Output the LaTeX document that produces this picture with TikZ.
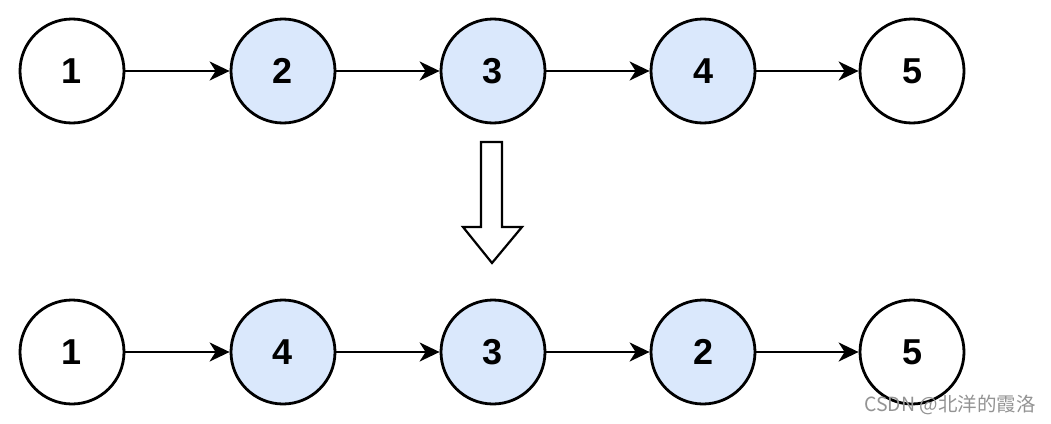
\documentclass[tikz,border=0pt]{standalone}
\usepackage{fontspec}
\setmainfont{Liberation Sans}
\newfontfamily\cjkfont{Noto Sans CJK SC}
\usepackage{xcolor}
\usetikzlibrary{arrows.meta}
\usetikzlibrary{positioning}

\definecolor{nodeblue}{HTML}{DAE8FC}

\begin{document}
\begin{tikzpicture}[
            x=1pt, y=-1pt,
            listnode/.style={circle, draw=black, line width=2.8pt, minimum size=104pt,
            inner sep=0pt, fill=white, font=\fontsize{36}{36}\selectfont\bfseries},
            swapped/.style={listnode, fill=nodeblue},
            link/.style={-{Stealth[length=20pt, width=19pt, inset=6pt]}, line width=2.2pt},
            bigarrow/.style={draw=black, line width=2.2pt, fill=white, line join=miter}
        ]
            % Marco
            \useasboundingbox (0,0) rectangle (1051,423);

            % Lista original
            \node[listnode] (a1) at (72,71) {1};
            \node[swapped]  (a2) at (283,71) {2};
            \node[swapped]  (a3) at (493,71) {3};
            \node[swapped]  (a4) at (703,71) {4};
            \node[listnode] (a5) at (912,71) {5};

            \draw[link] (a1) -- (a2);
            \draw[link] (a2) -- (a3);
            \draw[link] (a3) -- (a4);
            \draw[link] (a4) -- (a5);

            % Flecha hueca
            \draw[bigarrow] (481,142) -- (502,142) -- (502,227) -- (522,227)
                -- (492,263) -- (463,227) -- (481,227) -- cycle;

            % Lista invertida
            \node[listnode] (b1) at (72,352) {1};
            \node[swapped]  (b2) at (283,352) {4};
            \node[swapped]  (b3) at (493,352) {3};
            \node[swapped]  (b4) at (703,352) {2};
            \node[listnode] (b5) at (912,352) {5};

            \draw[link] (b1) -- (b2);
            \draw[link] (b2) -- (b3);
            \draw[link] (b3) -- (b4);
            \draw[link] (b4) -- (b5);

            % Marca de agua
            \node[anchor=east, text=gray!85, font=\fontsize{19.5}{19.5}\selectfont\cjkfont, inner sep=0pt]
                (mark) at (1036,405) {CSDN @北洋的霞洛};

        \end{tikzpicture}
\end{document}
